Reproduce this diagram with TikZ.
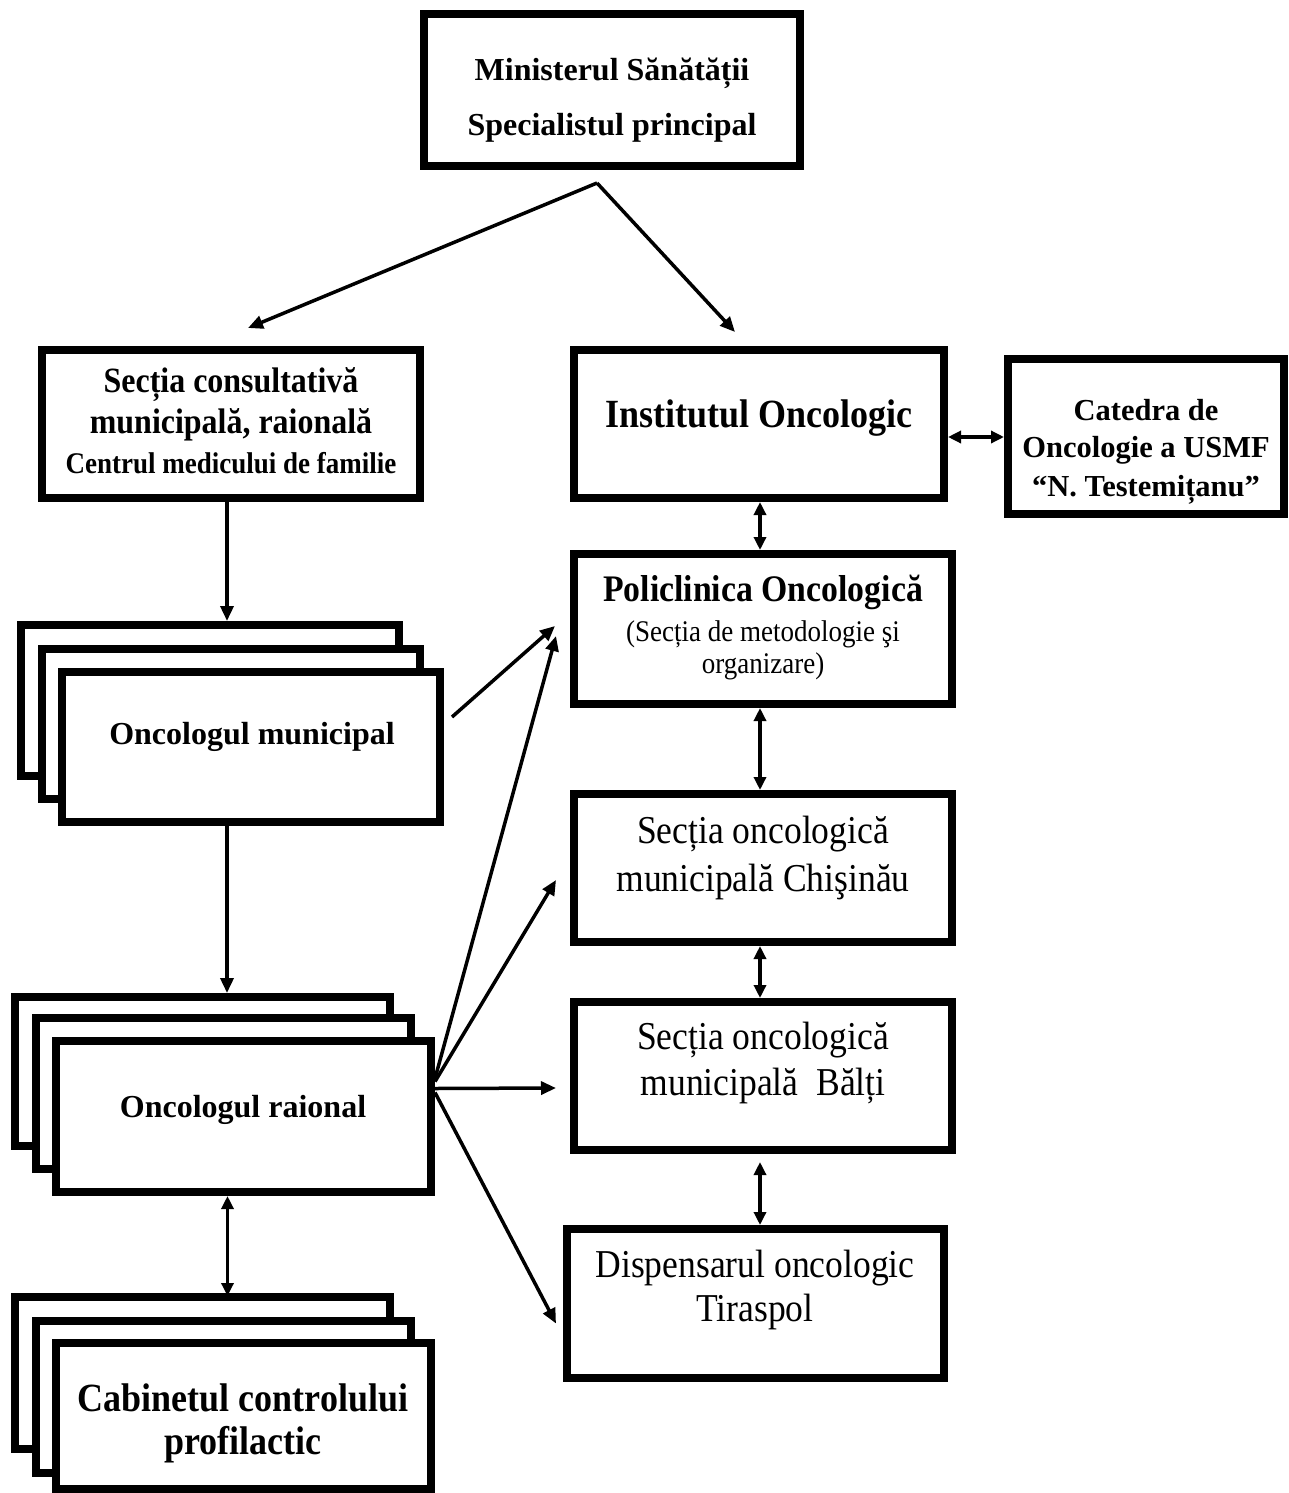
\documentclass[tikz,border=0pt]{standalone}
\usepackage{fontspec}
\setmainfont{Liberation Serif}
\newfontfamily\condfont[FakeStretch=0.9]{Liberation Serif}
\usetikzlibrary{arrows.meta,calc}
\begin{document}
\begin{tikzpicture}[x=1pt,y=-1pt,
  box/.style={draw=black, line width=8pt, fill=white, inner sep=0pt},
  arr/.style={line width=3.5pt, -{Triangle[length=15pt,width=13pt]}},
  darr/.style={line width=3.5pt, {Triangle[length=13pt,width=12pt]}-{Triangle[length=13pt,width=12pt]}},
  tb/.style={inner sep=0pt, font=\bfseries\fontsize{#1}{#1}\selectfont},
  tr/.style={inner sep=0pt, font=\fontsize{#1}{#1}\selectfont},
  cb/.style={inner sep=0pt, font=\condfont\bfseries\fontsize{#1}{#1}\selectfont},
  cr/.style={inner sep=0pt, font=\condfont\fontsize{#1}{#1}\selectfont}]
\useasboundingbox (0,0) rectangle (1288,1493);
% boxes
\node[box, minimum width=376pt, minimum height=152pt] (min) at (612,90) {};
\node[box, minimum width=378pt, minimum height=148pt] (secc) at (231,424) {};
\node[box, minimum width=370pt, minimum height=148pt] (inst) at (759,424) {};
\node[box, minimum width=276pt, minimum height=155pt] (cat) at (1146,436.5) {};
\node[box, minimum width=378pt, minimum height=150pt] (pol) at (763,629) {};
\node[box, minimum width=378pt, minimum height=148pt] (chis) at (763,868) {};
\node[box, minimum width=378pt, minimum height=148pt] (balti) at (763,1076) {};
\node[box, minimum width=377pt, minimum height=149pt] (disp) at (755.5,1303.5) {};
% stacks
\node[box, minimum width=378pt, minimum height=151pt] (munA) at (210,700.5) {};
\node[box, minimum width=378pt, minimum height=150pt] (munB) at (231,724) {};
\node[box, minimum width=378pt, minimum height=150pt] (munC) at (251,747) {};
\node[box, minimum width=375pt, minimum height=149pt] (raiA) at (202.5,1071.5) {};
\node[box, minimum width=375pt, minimum height=151pt] (raiB) at (223.5,1093.5) {};
\node[box, minimum width=375pt, minimum height=151pt] (raiC) at (243.5,1116.5) {};
\node[box, minimum width=375pt, minimum height=152pt] (cabA) at (202.5,1373) {};
\node[box, minimum width=375pt, minimum height=152pt] (cabB) at (223.5,1397) {};
\node[box, minimum width=375pt, minimum height=146pt] (cabC) at (243.5,1416) {};
% texts
\node[tb=32] (t1) at (612,73) {Ministerul Sănătății};
\node[tb=32] (t2) at (612,128) {Specialistul principal};
\node[cb=35.5] (t3) at (231,385) {Secția consultativă};
\node[cb=35.5] (t4) at (231,425) {municipală, raională};
\node[cb=30] (t5) at (231,463) {Centrul medicului de familie};
\node[cb=40] (t6) at (759,418) {Institutul Oncologic};
\node[tb=30.5] (t7) at (1146,410) {Catedra de};
\node[tb=30.5] (t8) at (1146,450) {Oncologie a USMF};
\node[tb=30.5] (t9) at (1146,490) {“N. Testemițanu”};
\node[cb=37.5] (t10) at (763,592) {Policlinica Oncologică};
\node[cr=30] (t11) at (763,634) {(Secția de metodologie şi};
\node[cr=30] (t12) at (763,666) {organizare)};
\node[cr=39.5] (t13) at (763,834) {Secția oncologică};
\node[cr=39.5] (t14) at (763,882) {municipală Chişinău};
\node[cr=39.5] (t15) at (763,1040) {Secția oncologică};
\node[cr=39.5] (t16) at (763,1086) {municipală~~Bălți};
\node[cr=39.5] (t17) at (755,1268) {Dispensarul oncologic};
\node[cr=39.5] (t18) at (755,1312) {Tiraspol};
\node[tb=32] (t19) at (252,737) {Oncologul municipal};
\node[tb=32] (t20) at (243,1110) {Oncologul raional};
\node[cb=40] (t21) at (243,1398) {Cabinetul controlului};
\node[cb=40] (t22) at (243,1445) {profilactic};
% connectors
\coordinate (apex) at ([xshift=-15pt,yshift=-13pt]min.south);
\draw[arr] (apex) -- ([xshift=17pt,yshift=18pt]secc.north);
\draw[arr] (apex) -- ([xshift=-24pt,yshift=14pt]inst.north);
\draw[arr] ([xshift=-4pt]secc.south) -- ([xshift=-4pt]secc.south |- munA.north);
\draw[arr] ([xshift=-24pt]munC.south) -- ([xshift=-24pt]munC.south |- raiA.north);
\draw[darr] ([xshift=-16pt]raiC.south) -- ([xshift=-16pt,yshift=-3pt]raiC.south |- cabA.north);
\draw[arr] ([xshift=8pt,yshift=30pt]munC.east) -- ([xshift=-15pt,yshift=3pt]pol.west);
\draw[arr] ([yshift=38pt]raiC.east) -- ([xshift=-14pt,yshift=-7pt]pol.west);
\draw[arr] ([yshift=35pt]raiC.east) -- ([xshift=-14pt,yshift=-12pt]chis.west);
\draw[arr] ([yshift=28pt]raiC.east) -- ([xshift=-14pt,yshift=-12pt]balti.west);
\draw[arr] ([yshift=24pt]raiC.east) -- ([xshift=-7pt,yshift=-20pt]disp.west);
\draw[darr] ([xshift=1pt]inst.south) -- ([xshift=1pt]inst.south |- pol.north);
\draw[darr] ([xshift=-3pt]pol.south) -- ([xshift=-3pt]pol.south |- chis.north);
\draw[darr] ([xshift=-3pt]chis.south) -- ([xshift=-3pt]chis.south |- balti.north);
\draw[darr] ([xshift=-3pt,yshift=-8pt]balti.south) -- ([xshift=-3pt]balti.south |- disp.north);
\draw[darr] ([yshift=-13pt]inst.east) -- ([yshift=-13pt]inst.east -| cat.west);
\end{tikzpicture}
\end{document}
